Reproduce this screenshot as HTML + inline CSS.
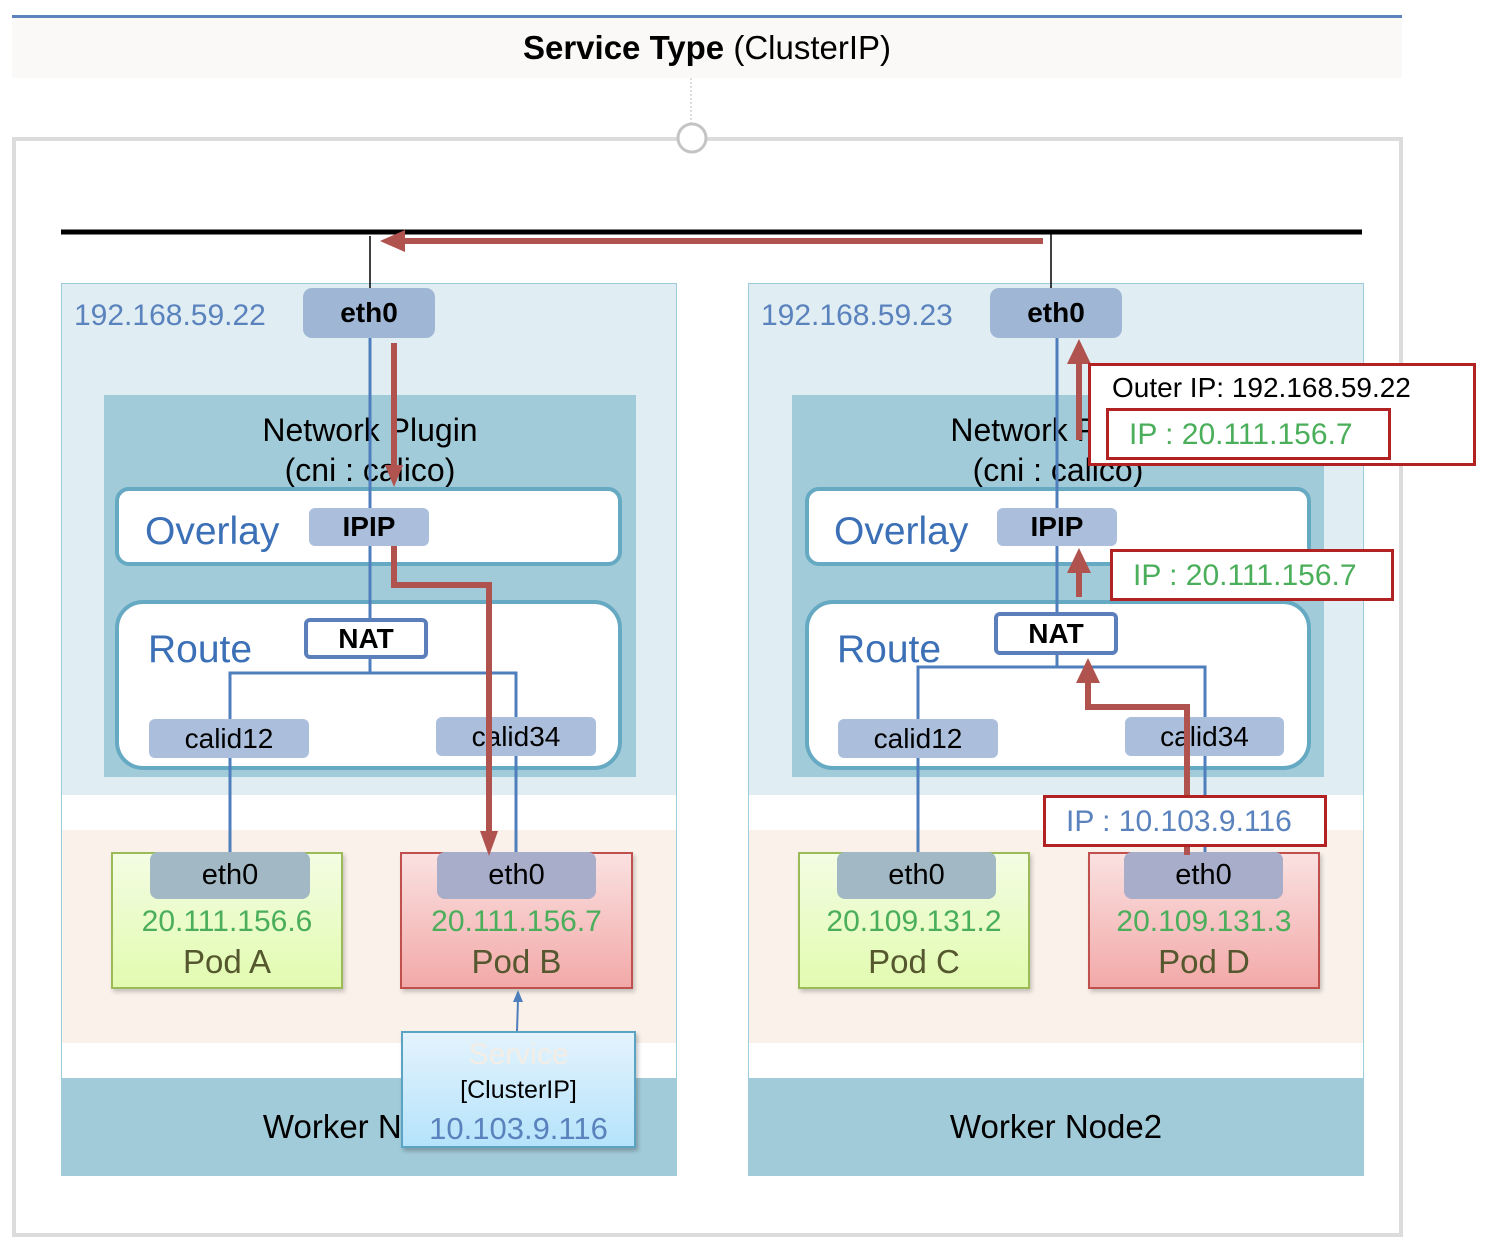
<!DOCTYPE html>
<html><head><meta charset="utf-8"><style>
*{margin:0;padding:0;box-sizing:border-box}
body{width:1486px;height:1252px;background:#fff;position:relative;overflow:hidden;font-family:"Liberation Sans",sans-serif}
.a{position:absolute}
.c{display:flex;align-items:center;justify-content:center;text-align:center}
.tag{background:#abbfdc;border-radius:6px;color:#000;font-size:28px}
.b{font-weight:bold}
.blue{color:#3b6fb6}
.ipc{color:#5a82bd}
.grn{color:#4aae5a}
.pod{color:#55572e;font-size:33px}
svg{position:absolute;left:0;top:0}
.rb{position:absolute;border:3px solid #b22222;background:#fff}
</style></head><body>
<div class="a" style="left:12px;top:15px;width:1390px;height:3px;background:#5b84bd"></div>
<div class="a c" style="left:12px;top:18px;width:1390px;height:60px;background:#faf9f7;font-size:33px"><span><b>Service Type</b> (ClusterIP)</span></div>
<div class="a" style="left:12px;top:137px;width:1391px;height:1100px;border:4px solid #dcdcdc"></div>

<div class="a" style="left:61px;top:283px;width:616px;height:893px;background:#e0edf3;border:1px solid #9ccbdc"></div>
<div class="a" style="left:62px;top:795px;width:614px;height:35px;background:#fff"></div>
<div class="a" style="left:62px;top:830px;width:614px;height:213px;background:#faf1ea"></div>
<div class="a" style="left:62px;top:1043px;width:614px;height:35px;background:#fff"></div>
<div class="a c" style="left:61px;top:1078px;width:616px;height:98px;background:#a2cbd9;font-size:33px">Worker Node1</div>

<div class="a" style="left:748px;top:283px;width:616px;height:893px;background:#e0edf3;border:1px solid #9ccbdc"></div>
<div class="a" style="left:749px;top:795px;width:614px;height:35px;background:#fff"></div>
<div class="a" style="left:749px;top:830px;width:614px;height:213px;background:#faf1ea"></div>
<div class="a" style="left:749px;top:1043px;width:614px;height:35px;background:#fff"></div>
<div class="a c" style="left:748px;top:1078px;width:616px;height:98px;background:#a2cbd9;font-size:33px">Worker Node2</div>

<div class="a ipc" style="left:74px;top:299px;font-size:30px">192.168.59.22</div>
<div class="a ipc" style="left:761px;top:299px;font-size:30px">192.168.59.23</div>

<div class="a" style="left:104px;top:395px;width:532px;height:382px;background:#a2cbd9"></div>
<div class="a c" style="left:104px;top:410px;width:532px;height:80px;font-size:32px;line-height:40px">Network Plugin<br>(cni : calico)</div>
<div class="a" style="left:115px;top:487px;width:507px;height:79px;background:#fff;border:4px solid #66a9c2;border-radius:14px"></div>
<div class="a" style="left:115px;top:600px;width:507px;height:170px;background:#fff;border:4px solid #66a9c2;border-radius:28px"></div>
<div class="a blue" style="left:145px;top:510px;font-size:39px">Overlay</div>
<div class="a blue" style="left:148px;top:628px;font-size:39px">Route</div>

<div class="a" style="left:792px;top:395px;width:532px;height:382px;background:#a2cbd9"></div>
<div class="a c" style="left:792px;top:410px;width:532px;height:80px;font-size:32px;line-height:40px">Network Plugin<br>(cni : calico)</div>
<div class="a" style="left:805px;top:487px;width:506px;height:79px;background:#fff;border:4px solid #66a9c2;border-radius:14px"></div>
<div class="a" style="left:805px;top:600px;width:506px;height:170px;background:#fff;border:4px solid #66a9c2;border-radius:28px"></div>
<div class="a blue" style="left:834px;top:510px;font-size:39px">Overlay</div>
<div class="a blue" style="left:837px;top:628px;font-size:39px">Route</div>

<div class="a" style="left:111px;top:852px;width:232px;height:137px;background:linear-gradient(#f3fde3,#e2fbb0);border:2px solid #9bbb59;box-shadow:2px 3px 4px rgba(0,0,0,.2)"></div>
<div class="a" style="left:400px;top:852px;width:233px;height:137px;background:linear-gradient(#fae1e1,#f2a9a8);border:2px solid #c0504d;box-shadow:2px 3px 4px rgba(0,0,0,.2)"></div>
<div class="a" style="left:798px;top:852px;width:232px;height:137px;background:linear-gradient(#f3fde3,#e2fbb0);border:2px solid #9bbb59;box-shadow:2px 3px 4px rgba(0,0,0,.2)"></div>
<div class="a" style="left:1088px;top:852px;width:232px;height:137px;background:linear-gradient(#fae1e1,#f2a9a8);border:2px solid #c0504d;box-shadow:2px 3px 4px rgba(0,0,0,.2)"></div>

<svg width="1486" height="1252">
<line x1="691" y1="78" x2="691" y2="124" stroke="#bbb" stroke-width="1" stroke-dasharray="2,2"/>
<circle cx="692" cy="138" r="14" fill="#fff" stroke="#c4c4c4" stroke-width="3"/>
<line x1="61" y1="232" x2="1362" y2="232" stroke="#000" stroke-width="5"/>
<line x1="370" y1="236" x2="370" y2="290" stroke="#000" stroke-width="1.5"/>
<line x1="1051" y1="234" x2="1051" y2="290" stroke="#000" stroke-width="1.5"/>
<g stroke="#4f7ebd" stroke-width="3" fill="none">
<path d="M370 338V618M370 658V673M230 719V673H516V717M230 758V852M516 756V852"/>
<path d="M1057 338V612M1057 655V667M918 719V667H1205V717M918 758V852M1205 756V852"/>
<path d="M517 1031L518 1000" stroke-width="2"/>
</g>
<polygon points="518,990 513,1002 523,1002" fill="#4f7ebd"/>
</svg>

<div class="a c tag b" style="left:303px;top:288px;width:132px;height:50px;background:#9fb7d5;border-radius:9px">eth0</div>
<div class="a c tag b" style="left:309px;top:508px;width:120px;height:38px">IPIP</div>
<div class="a c b" style="left:304px;top:618px;width:124px;height:41px;background:#fff;border:4px solid #5a7fba;border-radius:6px;font-size:28px">NAT</div>
<div class="a c tag" style="left:149px;top:719px;width:160px;height:39px">calid12</div>
<div class="a c tag" style="left:436px;top:717px;width:160px;height:39px">calid34</div>

<div class="a c tag b" style="left:990px;top:288px;width:132px;height:50px;background:#9fb7d5;border-radius:9px">eth0</div>
<div class="a c tag b" style="left:997px;top:508px;width:120px;height:38px">IPIP</div>
<div class="a c b" style="left:994px;top:612px;width:124px;height:43px;background:#fff;border:4px solid #5a7fba;border-radius:6px;font-size:28px">NAT</div>
<div class="a c tag" style="left:838px;top:719px;width:160px;height:39px">calid12</div>
<div class="a c tag" style="left:1125px;top:717px;width:159px;height:39px">calid34</div>

<div class="a c tag" style="left:150px;top:852px;width:160px;height:47px;background:#a2b9c5;border-radius:8px;font-size:29px">eth0</div>
<div class="a c grn" style="left:111px;top:905px;width:232px;font-size:30px">20.111.156.6</div>
<div class="a c pod" style="left:111px;top:943px;width:232px">Pod A</div>
<div class="a c tag" style="left:437px;top:852px;width:159px;height:47px;background:#a8adca;border-radius:8px;font-size:29px">eth0</div>
<div class="a c grn" style="left:400px;top:905px;width:233px;font-size:30px">20.111.156.7</div>
<div class="a c pod" style="left:400px;top:943px;width:233px">Pod B</div>

<div class="a c tag" style="left:837px;top:852px;width:159px;height:47px;background:#a2b9c5;border-radius:8px;font-size:29px">eth0</div>
<div class="a c grn" style="left:798px;top:905px;width:232px;font-size:30px">20.109.131.2</div>
<div class="a c pod" style="left:798px;top:943px;width:232px">Pod C</div>
<div class="a c tag" style="left:1124px;top:852px;width:159px;height:47px;background:#a8adca;border-radius:8px;font-size:29px">eth0</div>
<div class="a c grn" style="left:1088px;top:905px;width:232px;font-size:30px">20.109.131.3</div>
<div class="a c pod" style="left:1088px;top:943px;width:232px">Pod D</div>

<div class="a" style="left:401px;top:1031px;width:235px;height:117px;background:linear-gradient(#e4f3fc,#b5e3fb);border:2px solid #5ba3c2;box-shadow:2px 3px 4px rgba(0,0,0,.25)"></div>
<div class="a c" style="left:401px;top:1038px;width:235px;font-size:30px;color:#f3ede6">Service</div>
<div class="a c" style="left:401px;top:1076px;width:235px;font-size:25px">[ClusterIP]</div>
<div class="a c ipc" style="left:401px;top:1111px;width:235px;font-size:31px">10.103.9.116</div>

<svg width="1486" height="1252">
<g stroke="#b0524d" stroke-width="6" fill="none">
<path d="M1043 241H400"/>
<path d="M394 343V465"/>
<path d="M394 546V585H489V832"/>
<path d="M1187 855V707H1088V682"/>
<path d="M1079 597V572"/>
<path d="M1079 440V362"/>
</g>
<g fill="#b0524d">
<polygon points="380,241 405,230 405,252"/>
<polygon points="394,487 385,465 403,465"/>
<polygon points="489,856 480,831 498,831"/>
<polygon points="1088,658 1076,683 1100,683"/>
<polygon points="1079,548 1067,573 1091,573"/>
<polygon points="1079,339 1067,364 1091,364"/>
</g>
</svg>

<div class="rb" style="left:1088px;top:363px;width:388px;height:103px"></div>
<div class="a" style="left:1112px;top:372px;font-size:28px">Outer IP: 192.168.59.22</div>
<div class="rb grn" style="left:1106px;top:408px;width:285px;height:52px;font-size:30px;padding:7px 0 0 20px">IP : 20.111.156.7</div>
<div class="rb grn" style="left:1110px;top:549px;width:284px;height:52px;font-size:30px;padding:7px 0 0 20px">IP : 20.111.156.7</div>
<div class="rb ipc" style="left:1043px;top:795px;width:284px;height:52px;font-size:30px;padding:7px 0 0 20px">IP : 10.103.9.116</div>
</body></html>
